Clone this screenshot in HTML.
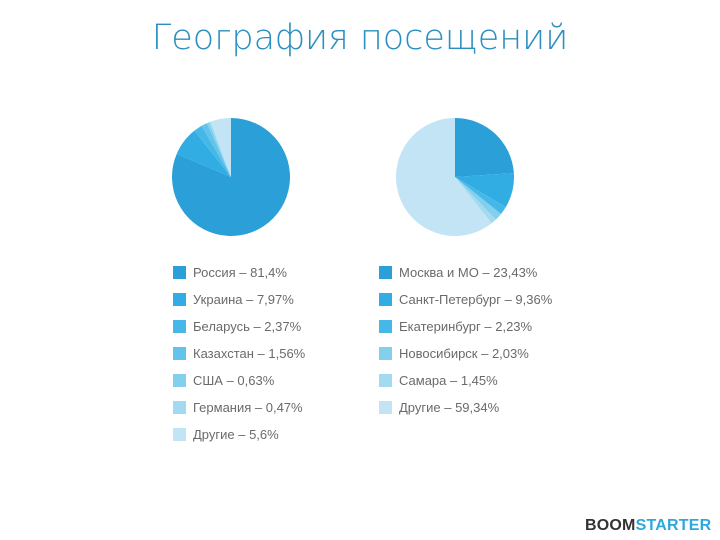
<!DOCTYPE html>
<html><head><meta charset="utf-8"><style>
body{margin:0;width:720px;height:540px;background:#fff;font-family:"Liberation Sans",sans-serif;overflow:hidden;position:relative}
.t{position:absolute;left:0;width:720px;top:18px;text-align:center;font-size:35px;color:#2a8fc0;font-family:"DejaVu Sans","Liberation Sans",sans-serif;font-weight:300}
.lg{position:absolute;font-size:13px;color:#6a6a6a;white-space:nowrap}
.lg i{position:absolute;left:0;top:1px;width:13px;height:13px}
.lg span{position:absolute;left:20px;top:0}
.logo{position:absolute;left:585px;top:517px;font-size:16px;font-weight:900;letter-spacing:0.2px}
</style></head><body>
<div class="t">География посещений</div>
<svg id="s" width="720" height="540" style="position:absolute;left:0;top:0"></svg>
<div id="leg"></div>
<div class="logo"><span style="color:#333">BOOM</span><span style="color:#2ea7e0">STARTER</span></div>
<script>
const colors=['#2a9fd8','#31ade3','#46b8e8','#62c3ec','#82cfee','#a2daf1','#c3e4f5'];
const labels1=['Россия','Украина','Беларусь','Казахстан','США','Германия','Другие'];
const values1=[81.4,7.97,2.37,1.56,0.63,0.47,5.6];
const text1=['81,4%','7,97%','2,37%','1,56%','0,63%','0,47%','5,6%'];
const labels2=['Москва и МО','Санкт-Петербург','Екатеринбург','Новосибирск','Самара','Другие'];
const values2=[23.43,9.36,2.23,2.03,1.45,59.34];
const text2=['23,43%','9,36%','2,23%','2,03%','1,45%','59,34%'];
const colors2=['#2a9fd8','#31ade3','#46b8e8','#82cfee','#a2daf1','#c3e4f5'];
const svg=document.getElementById('s');
function pie(cx,cy,r,vals,cols,name){
  const tot=vals.reduce((a,b)=>a+b,0);let a=0;
  vals.forEach((v,i)=>{
    const a0=a/tot*2*Math.PI,a1=(a+v)/tot*2*Math.PI;a+=v;
    const x0=cx+r*Math.sin(a0),y0=cy-r*Math.cos(a0),x1=cx+r*Math.sin(a1),y1=cy-r*Math.cos(a1);
    const p=document.createElementNS('http://www.w3.org/2000/svg','path');
    p.setAttribute('d',`M${cx},${cy}L${x0},${y0}A${r},${r} 0 ${a1-a0>Math.PI?1:0} 1 ${x1},${y1}Z`);
    p.setAttribute('fill',cols[i]);
    
    
    svg.appendChild(p);
  });
}
pie(231,177,59,values1,colors,'pie-countries');
pie(455,177,59,values2,colors2,'pie-cities');
const leg=document.getElementById('leg');
function legend(x,labs,txt,cols,name){
  labs.forEach((l,i)=>{
    const d=document.createElement('div');d.className='lg';
    
    
    d.style.left=x+'px';d.style.top=(265+i*27)+'px';
    d.innerHTML=`<i style="background:${cols[i]}"></i><span>${l} – ${txt[i]}</span>`;
    leg.appendChild(d);
  });
}
legend(173,labels1,text1,colors,'legend-countries');
legend(379,labels2,text2,colors2,'legend-cities');
</script>
</body></html>
